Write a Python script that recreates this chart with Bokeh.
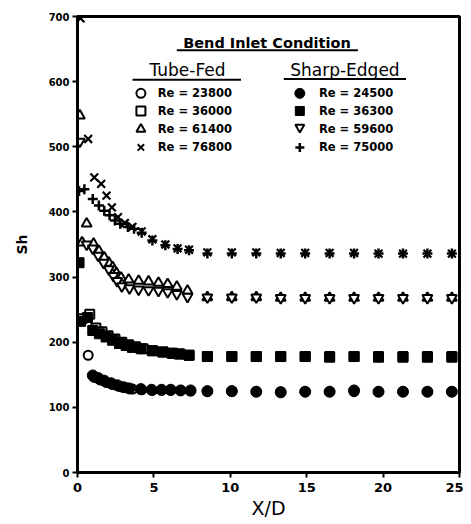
from bokeh.plotting import figure
from bokeh.models import Range1d, FixedTicker, Label
from bokeh.embed import file_html
from bokeh.resources import INLINE

# ---------------- data ----------------
far_x = [8.5, 10.1, 11.7, 13.3, 14.9, 16.5, 18.1, 19.7, 21.3, 22.9, 24.5]

# Tube-Fed
tf_c_x = [0.7, 1.1, 1.5, 1.9, 2.3, 2.75, 3.2, 3.6, 4.2, 4.9, 5.5, 6.1, 6.75, 7.4] + far_x
tf_c_y = [180, 146, 142, 138, 135, 132, 130, 128, 127, 126, 126, 126, 126, 125] + [124, 124, 124, 124, 124, 124, 124, 124, 124, 124, 124]

tf_s_x = [0.3, 0.8, 1.2, 1.6, 2.0, 2.45, 2.9, 3.35, 3.8, 4.3, 4.9, 5.6, 6.2, 6.7, 7.3] + far_x
tf_s_y = [236, 243, 222, 216, 210, 205, 200, 196, 193, 190, 187, 185, 183, 182, 180] + [178, 178, 178, 178, 178, 178, 178, 178, 178, 178, 178]

tf_t_x = [0.15, 0.6, 0.3, 1.05, 1.4, 1.75, 2.05, 2.3, 2.55, 2.85, 3.35, 4.0, 4.65, 5.3, 5.9, 6.5, 7.2] + far_x
tf_t_y = [548, 382, 353, 351, 340, 330, 322, 315, 306, 299, 296, 294, 293, 291, 289, 285, 279] + [269, 269, 269, 268, 268, 268, 268, 268, 268, 268, 268]

tf_x_x = [0.2, 0.7, 1.1, 1.55, 1.9, 2.25, 2.65, 3.1, 3.6, 4.2, 4.9, 5.75, 6.55, 7.3] + far_x
tf_x_y = [697, 512, 453, 443, 425, 407, 392, 383, 377, 370, 358, 350, 344, 342] + [338, 338, 338, 337, 337, 337, 337, 336, 336, 336, 336]

# Sharp-Edged
se_c_x = [1.0, 1.35, 1.75, 2.2, 2.6, 3.0, 3.4, 4.15, 4.85, 5.5, 6.1, 6.75, 7.4] + far_x
se_c_y = [149, 145, 141, 137, 134, 131, 129, 128, 127, 127, 127, 126, 126] + [125, 125, 124, 123, 124, 124, 126, 124, 124, 124, 124]

se_s_x = [0.1, 0.2, 0.65, 1.0, 1.43, 1.87, 2.3, 2.75, 3.18, 3.6, 4.16, 4.9, 5.58, 6.2, 6.65, 7.3] + far_x
se_s_y = [322, 232, 238, 218, 213, 208, 203, 198, 195, 192, 190, 187, 185, 183, 182, 180] + [178, 178, 178, 178, 178, 177, 178, 177, 177, 177, 177]

se_t_x = [0.15, 0.6, 1.0, 1.35, 1.7, 2.05, 2.35, 2.6, 2.9, 3.4, 4.0, 4.65, 5.3, 5.9, 6.5, 7.2] + far_x
se_t_y = [508, 350, 344, 333, 322, 312, 302, 294, 286, 283, 281, 280, 279, 277, 274, 270] + [269, 269, 269, 268, 268, 268, 268, 268, 268, 268, 268]

se_p_x = [0.1, 0.45, 1.0, 1.4, 1.75, 2.1, 2.45, 2.8, 3.3, 3.7, 4.2, 4.9, 5.75, 6.55, 7.3] + far_x
se_p_y = [432, 435, 420, 410, 402, 395, 387, 382, 377, 374, 368, 356, 349, 343, 341] + [336, 336, 336, 336, 336, 336, 336, 336, 336, 336, 336]

x_ticks = [0, 5, 10, 15, 20, 25]
y_ticks = [0, 100, 200, 300, 400, 500, 600, 700]

title_text = "Bend Inlet Condition"
group_labels = ["Tube-Fed", "Sharp-Edged"]
tf_labels = ["Re = 23800", "Re = 36000", "Re = 61400", "Re = 76800"]
se_labels = ["Re = 24500", "Re = 36300", "Re = 59600", "Re = 75000"]

FONT = "DejaVu Sans"

p = figure(frame_width=382, frame_height=456, output_backend="svg", toolbar_location=None,
           x_range=Range1d(0, 25), y_range=Range1d(0, 700),
           min_border_left=77, min_border_right=4, min_border_top=16, min_border_bottom=40)
p.grid.visible = False
p.outline_line_color = "black"
p.outline_line_width = 3
p.background_fill_color = "white"
p.border_fill_color = "white"

for ax in (p.xaxis[0], p.yaxis[0]):
    ax.axis_line_width = 3
    ax.major_tick_line_width = 2
    ax.major_tick_out = 5
    ax.major_tick_in = 0
    ax.minor_tick_line_color = None
    ax.major_label_text_font = FONT
    ax.major_label_text_font_style = "bold"
    ax.major_label_text_color = "black"
    ax.axis_label_text_font = FONT
    ax.axis_label_text_color = "black"

p.xaxis.ticker = FixedTicker(ticks=x_ticks)
p.yaxis.ticker = FixedTicker(ticks=y_ticks)
p.xaxis.major_label_text_font_size = "13px"
p.yaxis.major_label_text_font_size = "10px"
p.xaxis.major_label_standoff = 5
p.yaxis.major_label_standoff = 3
p.xaxis.axis_label = "X/D"
p.xaxis.axis_label_text_font_size = "19px"
p.xaxis.axis_label_text_font_style = "normal"
p.xaxis.axis_label_standoff = 2
p.yaxis.axis_label = "Sh"
p.yaxis.axis_label_text_font_size = "14px"
p.yaxis.axis_label_text_font_style = "bold"
p.yaxis.axis_label_standoff = 16

# open (tube-fed) markers drawn first, filled on top
p.scatter(tf_c_x, tf_c_y, marker="circle", size=9, fill_color="white", line_color="black", line_width=2)
p.scatter(tf_s_x, tf_s_y, marker="square", size=9, fill_color="white", line_color="black", line_width=2)
p.scatter(tf_t_x, tf_t_y, marker="triangle", size=10, fill_color="white", line_color="black", line_width=2)
p.scatter(tf_x_x, tf_x_y, marker="x", size=11, line_color="black", line_width=2.2)

p.scatter(se_c_x, se_c_y, marker="circle", size=11, fill_color="black", line_color="black")
p.scatter(se_s_x, se_s_y, marker="square", size=10, fill_color="black", line_color="black")
p.scatter(se_t_x, se_t_y, marker="inverted_triangle", size=10, fill_color="white", line_color="black", line_width=2)
p.scatter(se_p_x, se_p_y, marker="cross", size=10, line_color="black", line_width=2.5)

# ---------------- legend block ----------------
p.add_layout(Label(x=12.4, y=660, text=title_text, text_align="center", text_baseline="middle",
                   text_font=FONT, text_font_style="bold", text_font_size="14.5px", text_color="black"))
p.segment(x0=[6.5], y0=[648], x1=[18.35], y1=[648], line_color="black", line_width=2)

p.add_layout(Label(x=7.2, y=618, text=group_labels[0], text_align="center", text_baseline="middle",
                   text_font=FONT, text_font_size="17px", text_color="black"))
p.add_layout(Label(x=17.5, y=618, text=group_labels[1], text_align="center", text_baseline="middle",
                   text_font=FONT, text_font_size="17px", text_color="black"))
p.segment(x0=[3.6, 13.5], y0=[603, 604], x1=[10.7, 21.5], y1=[603, 604], line_color="black", line_width=2)

row_y = [582, 555, 527, 499]
lx, ltx, rx, rtx = 4.15, 5.25, 14.55, 15.8
p.scatter([lx], [row_y[0]], marker="circle", size=9, fill_color="white", line_color="black", line_width=2)
p.scatter([lx], [row_y[1]], marker="square", size=9, fill_color="white", line_color="black", line_width=2)
p.scatter([lx], [row_y[2]], marker="triangle", size=9, fill_color="white", line_color="black", line_width=2)
p.scatter([lx], [row_y[3]], marker="x", size=9, line_color="black", line_width=2)
p.scatter([rx], [row_y[0]], marker="circle", size=10, fill_color="black", line_color="black")
p.scatter([rx], [row_y[1]], marker="square", size=9, fill_color="black", line_color="black")
p.scatter([rx], [row_y[2] + 3], marker="inverted_triangle", size=9, fill_color="white", line_color="black", line_width=2)
p.scatter([rx], [row_y[3]], marker="cross", size=9, line_color="black", line_width=2.5)

for i in range(4):
    p.add_layout(Label(x=ltx, y=row_y[i], text=tf_labels[i], text_baseline="middle",
                       text_font=FONT, text_font_style="bold", text_font_size="11.5px", text_color="black"))
    p.add_layout(Label(x=rtx, y=row_y[i], text=se_labels[i], text_baseline="middle",
                       text_font=FONT, text_font_style="bold", text_font_size="11.5px", text_color="black"))

open("out.html", "w").write(file_html(p, INLINE))
